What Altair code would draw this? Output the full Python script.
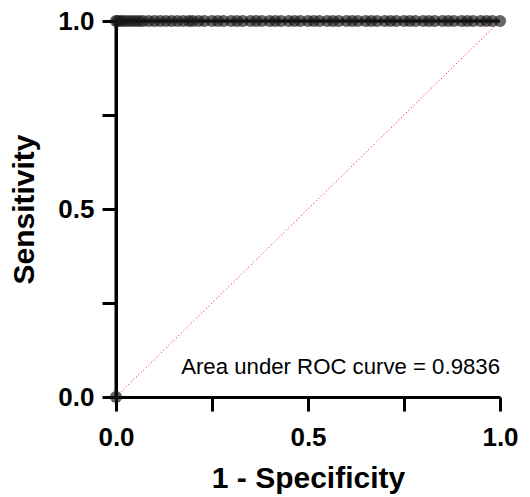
import altair as alt
import pandas as pd

# ROC points (1 - specificity, sensitivity)
fpr = [0.0, 0.0, 0.004, 0.012, 0.02, 0.03, 0.04, 0.05, 0.06, 0.07, 0.085, 0.1, 0.115, 0.13,
       0.145, 0.16, 0.175, 0.19, 0.2, 0.215, 0.23, 0.25, 0.265, 0.28, 0.3, 0.315, 0.33,
       0.35, 0.365, 0.38, 0.4, 0.415, 0.43, 0.45, 0.465, 0.48, 0.5, 0.515, 0.53, 0.55,
       0.565, 0.58, 0.6, 0.615, 0.63, 0.65, 0.665, 0.68, 0.7, 0.715, 0.73, 0.75, 0.765,
       0.78, 0.8, 0.815, 0.83, 0.85, 0.865, 0.88, 0.9, 0.915, 0.93, 0.95, 0.965, 0.98, 1.0]
tpr = [0.0] + [1.0] * (len(fpr) - 1)

diag_x = [0.0, 1.0]
diag_y = [0.0, 1.0]

auc_label = "Area under ROC curve = 0.9836"
tick_vals = [0, 0.25, 0.5, 0.75, 1]

roc = pd.DataFrame({"fpr": fpr, "tpr": tpr, "order": list(range(len(fpr)))})
diag = pd.DataFrame({"x": diag_x, "y": diag_y})

label_expr = "datum.value == 0.25 || datum.value == 0.75 ? '' : format(datum.value, '.1f')"

xscale = alt.Scale(domain=[0, 1], nice=False, zero=False)
yscale = alt.Scale(domain=[0, 1], nice=False, zero=False)

axis_common = dict(
    values=tick_vals, labelExpr=label_expr, grid=False, labelFlush=False, labelOverlap=False,
    domainColor="black", domainWidth=3, tickColor="black", tickWidth=3, tickSize=14,
    labelFont="Liberation Sans", labelFontWeight="bold", labelFontSize=26, labelColor="black",
    titleFont="Liberation Sans", titleFontWeight="bold", titleFontSize=30, titleColor="black",
)

xaxis = alt.Axis(title="1 - Specificity", labelPadding=13, titlePadding=13, **axis_common)
yaxis = alt.Axis(title="Sensitivity", labelPadding=8, titlePadding=18, **axis_common)

diag_line = alt.Chart(diag).mark_line(color="red", strokeWidth=1, strokeDash=[1, 2.5]).encode(
    x=alt.X("x:Q", scale=xscale, axis=xaxis),
    y=alt.Y("y:Q", scale=yscale, axis=yaxis),
)

curve = alt.Chart(roc).mark_line(color="black", strokeWidth=3).encode(
    x=alt.X("fpr:Q", scale=xscale),
    y=alt.Y("tpr:Q", scale=yscale),
    order="order:Q",
)

pts = alt.Chart(roc).mark_circle(size=150, color="#151515", opacity=0.65).encode(
    x=alt.X("fpr:Q", scale=xscale),
    y=alt.Y("tpr:Q", scale=yscale),
)

txt = alt.Chart(pd.DataFrame({"x": [1.0], "y": [0.0], "t": [auc_label]})).mark_text(
    align="right", baseline="alphabetic", dy=-23, fontSize=22.2, font="Liberation Sans", color="black"
).encode(
    x=alt.X("x:Q", scale=xscale),
    y=alt.Y("y:Q", scale=yscale),
    text="t:N",
)

chart = alt.layer(diag_line, curve, pts, txt).properties(
    width=384, height=376,
    autosize=alt.AutoSizeParams(type="none"),
    padding={"left": 108, "top": 13, "right": 22, "bottom": 100},
).configure_view(stroke=None)

chart.save("out.html", embed_options={"renderer": "svg", "actions": False})
